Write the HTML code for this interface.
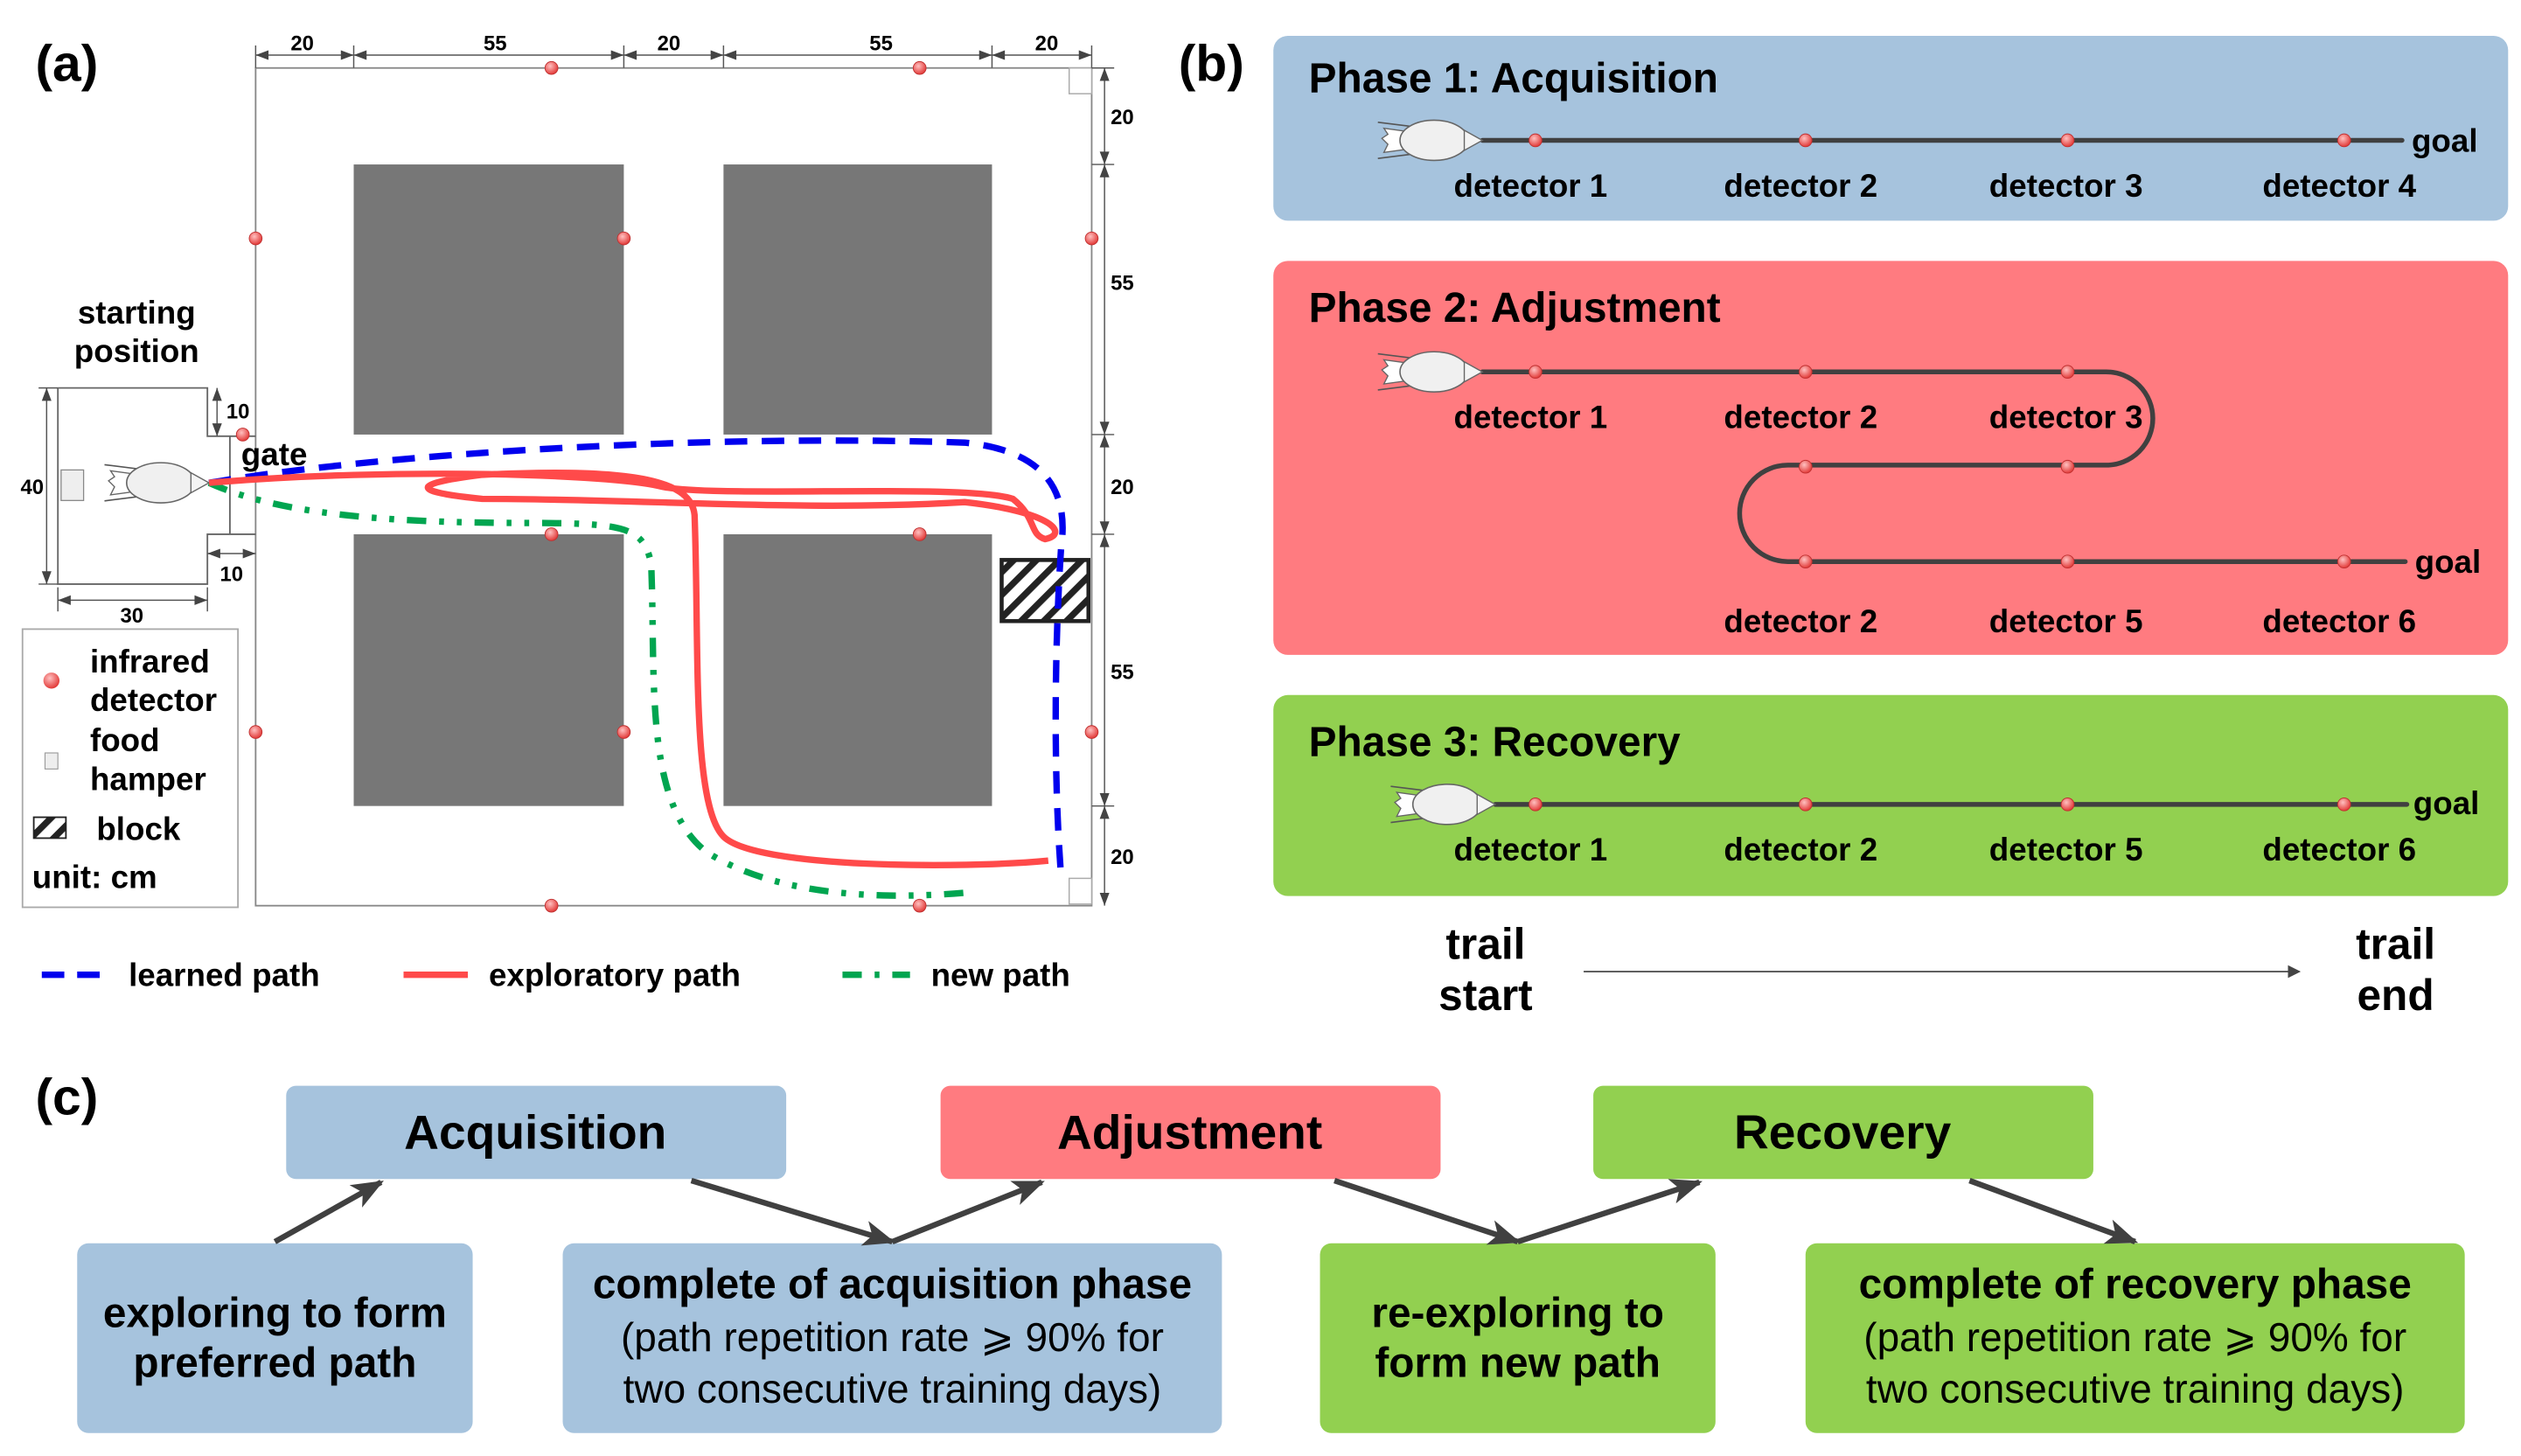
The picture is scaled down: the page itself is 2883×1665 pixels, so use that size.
<!DOCTYPE html>
<html><head><meta charset="utf-8"><style>
html,body{margin:0;padding:0;background:#fff}
svg{display:block}
.c{font-family:"Liberation Sans",sans-serif;font-weight:bold}
</style></head><body>
<svg width="2883" height="1665" viewBox="0 0 1568 905" xmlns="http://www.w3.org/2000/svg">
<defs>
<radialGradient id="rd" cx="0.4" cy="0.35" r="0.7"><stop offset="0" stop-color="#ffc0c0"/><stop offset="1" stop-color="#e0302e"/></radialGradient>
<marker id="ah" markerWidth="8" markerHeight="8" refX="7" refY="4" orient="auto" markerUnits="userSpaceOnUse"><path d="M0,0 L8,4 L0,8 Z" fill="#444"/></marker>
<marker id="ab" markerWidth="20" markerHeight="16" refX="18" refY="8" orient="auto" markerUnits="userSpaceOnUse"><path d="M0,0 L20,8 L0,16 L5,8 Z" fill="#404040"/></marker>
<pattern id="hat" width="10" height="10" patternUnits="userSpaceOnUse" patternTransform="rotate(45)"><rect width="10" height="10" fill="#fff"/><rect width="4" height="10" fill="#222"/></pattern>
<g id="mouse" transform="scale(1.25)">
<line x1="-40" y1="-9" x2="-8" y2="-5" stroke="#555" stroke-width="0.7"/>
<line x1="-40" y1="9" x2="-8" y2="5" stroke="#555" stroke-width="0.7"/>
<path d="M-37,-6 L-15,-3 L-15,3 L-37,6 L-35,2 L-38,-1 L-35,-3 Z" fill="#fff" stroke="#666" stroke-width="0.6"/>
<ellipse cx="-12" cy="0" rx="17" ry="10" fill="#f0f0f0" stroke="#666" stroke-width="0.7"/>
<path d="M3,-5 L12,0 L3,5 Z" fill="#f4f4f4" stroke="#666" stroke-width="0.6"/>
</g>
</defs>

<g class="c" font-family="Liberation Sans">
<text x="22" y="50" font-size="32">(a)</text>
<rect x="159" y="42" width="520" height="521" fill="#fff" stroke="#888" stroke-width="1"/>
<rect x="665" y="42" width="14" height="16" fill="#fff" stroke="#aaa" stroke-width="0.8"/>
<rect x="665" y="546" width="14" height="16" fill="#fff" stroke="#aaa" stroke-width="0.8"/>
<path d="M143,242 L143,364" stroke="#fff" stroke-width="3"/>
<path d="M36,241 L129,241 L129,271 L159,271 M36,241 L36,363 L129,363 L129,332 L159,332 M143,271 L143,332" fill="none" stroke="#666" stroke-width="1"/>
<rect x="38" y="292" width="14" height="19" fill="#eee" stroke="#888" stroke-width="0.7"/>
<use href="#mouse" transform="translate(115,300)"/>
<rect x="220" y="102" width="168" height="168" fill="#777"/>
<rect x="450" y="102" width="167" height="168" fill="#777"/>
<rect x="220" y="332" width="168" height="169" fill="#777"/>
<rect x="450" y="332" width="167" height="169" fill="#777"/>
<rect x="623" y="348" width="54" height="38" fill="url(#hat)" stroke="#222" stroke-width="2.5"/>
<g stroke="#555" stroke-width="0.8" fill="none">
<line x1="159" y1="34" x2="679" y2="34"/>
<line x1="159" y1="42" x2="159" y2="28"/><line x1="220" y1="28" x2="220" y2="42"/><line x1="388" y1="28" x2="388" y2="42"/><line x1="450" y1="28" x2="450" y2="42"/><line x1="617" y1="28" x2="617" y2="42"/><line x1="679" y1="28" x2="679" y2="42"/>
<line x1="687" y1="42" x2="687" y2="563"/>
<line x1="679" y1="102" x2="693" y2="102"/><line x1="679" y1="270" x2="693" y2="270"/><line x1="679" y1="332" x2="693" y2="332"/><line x1="679" y1="501" x2="693" y2="501"/><line x1="679" y1="42" x2="693" y2="42"/>
<line x1="29" y1="241" x2="29" y2="363"/><line x1="24" y1="241" x2="36" y2="241"/><line x1="24" y1="363" x2="36" y2="363"/>
<line x1="36" y1="373" x2="129" y2="373"/><line x1="36" y1="365" x2="36" y2="380"/><line x1="129" y1="365" x2="129" y2="380"/>
<line x1="135" y1="241" x2="135" y2="271"/>
<line x1="129" y1="344" x2="159" y2="344"/>
</g>
<g fill="#444">
<path d="M159,34 l8,-3 v6z M220,34 l-8,-3 v6z M220,34 l8,-3 v6z M388,34 l-8,-3 v6z M388,34 l8,-3 v6z M450,34 l-8,-3 v6z M450,34 l8,-3 v6z M617,34 l-8,-3 v6z M617,34 l8,-3 v6z M679,34 l-8,-3 v6z"/>
<path d="M687,42 l-3,8 h6z M687,102 l-3,-8 h6z M687,102 l-3,8 h6z M687,270 l-3,-8 h6z M687,270 l-3,8 h6z M687,332 l-3,-8 h6z M687,332 l-3,8 h6z M687,501 l-3,-8 h6z M687,501 l-3,8 h6z M687,563 l-3,-8 h6z"/>
<path d="M29,241 l-3,8 h6z M29,363 l-3,-8 h6z M36,373 l8,-3 v6z M129,373 l-8,-3 v6z M135,241 l-3,8 h6z M135,271 l-3,-8 h6z M129,344 l8,-3 v6z M159,344 l-8,-3 v6z"/>
</g>
<g font-size="13" text-anchor="middle">
<text x="188" y="31">20</text><text x="308" y="31">55</text><text x="416" y="31">20</text><text x="548" y="31">55</text><text x="651" y="31">20</text>
<text x="698" y="77">20</text><text x="698" y="180">55</text><text x="698" y="307">20</text><text x="698" y="422">55</text><text x="698" y="537">20</text>
<text x="20" y="307">40</text><text x="82" y="387">30</text><text x="148" y="260">10</text><text x="144" y="361">10</text>
</g>
<text x="85" y="201" font-size="20" text-anchor="middle">starting</text>
<text x="85" y="225" font-size="20" text-anchor="middle">position</text>
<text x="150" y="289" font-size="20">gate</text>
<path d="M130,300 C250,280 450,270 600,275 C650,280 665,305 660,340 C656,400 655,480 660,545" fill="none" stroke="#0000ee" stroke-width="4" stroke-dasharray="14,9"/>
<path d="M130,300 C170,318 230,325 330,325 C390,325 400,328 405,350 C408,420 400,500 440,530 C480,555 540,560 600,555" fill="none" stroke="#00a550" stroke-width="4" stroke-dasharray="12,8,3,8,3,8"/>
<path d="M130,300 C250,290 380,295 410,302 C440,310 600,300 630,310 C645,322 640,332 650,335 C665,332 655,318 600,312 C500,318 400,310 300,310 C250,305 260,300 300,295 C400,290 430,300 432,320 C435,400 430,500 450,520 C470,540 600,540 652,535" fill="none" stroke="#ff4a4a" stroke-width="4"/>
<g fill="url(#rd)" stroke="#c03030" stroke-width="0.5">
<circle cx="343" cy="42" r="4"/><circle cx="572" cy="42" r="4"/><circle cx="159" cy="148" r="4"/><circle cx="159" cy="455" r="4"/>
<circle cx="388" cy="148" r="4"/><circle cx="388" cy="455" r="4"/><circle cx="679" cy="148" r="4"/><circle cx="679" cy="455" r="4"/>
<circle cx="343" cy="563" r="4"/><circle cx="572" cy="563" r="4"/><circle cx="343" cy="332" r="4"/><circle cx="572" cy="332" r="4"/><circle cx="151" cy="270" r="4"/>
</g>
<rect x="14" y="391" width="134" height="173" fill="#fff" stroke="#aaa" stroke-width="1"/>
<circle cx="32" cy="423" r="5" fill="url(#rd)"/>
<rect x="28" y="468" width="8" height="10" fill="#eee" stroke="#999" stroke-width="0.6"/>
<rect x="21" y="508" width="20" height="13" fill="url(#hat)" stroke="#222" stroke-width="1"/>
<g font-size="20"><text x="56" y="418">infrared</text><text x="56" y="442">detector</text><text x="56" y="467">food</text><text x="56" y="491">hamper</text><text x="60" y="522">block</text><text x="20" y="552">unit: cm</text>
<text x="80" y="613">learned path</text><text x="304" y="613">exploratory path</text><text x="579" y="613">new path</text></g>
<line x1="26" y1="606" x2="68" y2="606" stroke="#0000ee" stroke-width="4" stroke-dasharray="14,8"/>
<line x1="251" y1="606" x2="291" y2="606" stroke="#ff4a4a" stroke-width="4"/>
<line x1="524" y1="606" x2="566" y2="606" stroke="#00a550" stroke-width="4" stroke-dasharray="12,8,3,8"/>

<text x="733" y="50" font-size="32">(b)</text>
<rect x="792" y="22" width="768" height="115" rx="9" fill="#a6c3dd"/>
<rect x="792" y="162" width="768" height="245" rx="9" fill="#ff7b80"/>
<rect x="792" y="432" width="768" height="125" rx="9" fill="#92d050"/>
<g font-size="26"><text x="814" y="57">Phase 1: Acquisition</text><text x="814" y="200">Phase 2: Adjustment</text><text x="814" y="470">Phase 3: Recovery</text></g>
<g stroke="#404040" stroke-width="3" fill="none" stroke-linecap="round">
<line x1="922" y1="87" x2="1494" y2="87"/>
<path d="M922,231 L1310,231 A29,29 0 0 1 1310,289 L1112,289 A30,30 0 0 0 1112,349 L1496,349"/>
<line x1="930" y1="500" x2="1497" y2="500"/>
</g>
<use href="#mouse" transform="translate(907,87)"/>
<use href="#mouse" transform="translate(907,231)"/>
<use href="#mouse" transform="translate(915,500)"/>
<g fill="url(#rd)" stroke="#c03030" stroke-width="0.5">
<circle cx="955" cy="87" r="4"/><circle cx="1123" cy="87" r="4"/><circle cx="1286" cy="87" r="4"/><circle cx="1458" cy="87" r="4"/>
<circle cx="955" cy="231" r="4"/><circle cx="1123" cy="231" r="4"/><circle cx="1286" cy="231" r="4"/>
<circle cx="1123" cy="290" r="4"/><circle cx="1286" cy="290" r="4"/>
<circle cx="1123" cy="349" r="4"/><circle cx="1286" cy="349" r="4"/><circle cx="1458" cy="349" r="4"/>
<circle cx="955" cy="500" r="4"/><circle cx="1123" cy="500" r="4"/><circle cx="1286" cy="500" r="4"/><circle cx="1458" cy="500" r="4"/>
</g>
<g font-size="20" text-anchor="middle">
<text x="952" y="122">detector 1</text><text x="1120" y="122">detector 2</text><text x="1285" y="122">detector 3</text><text x="1455" y="122">detector 4</text>
<text x="952" y="266">detector 1</text><text x="1120" y="266">detector 2</text><text x="1285" y="266">detector 3</text>
<text x="1120" y="393">detector 2</text><text x="1285" y="393">detector 5</text><text x="1455" y="393">detector 6</text>
<text x="952" y="535">detector 1</text><text x="1120" y="535">detector 2</text><text x="1285" y="535">detector 5</text><text x="1455" y="535">detector 6</text>
</g>
<g font-size="20"><text x="1500" y="94">goal</text><text x="1502" y="356">goal</text><text x="1501" y="506">goal</text></g>
<g font-size="27" text-anchor="middle"><text x="924" y="596">trail</text><text x="924" y="628">start</text><text x="1490" y="596">trail</text><text x="1490" y="628">end</text></g>
<line x1="985" y1="604" x2="1430" y2="604" stroke="#555" stroke-width="1" marker-end="url(#ah)"/>

<text x="22" y="693" font-size="32">(c)</text>
<rect x="178" y="675" width="311" height="58" rx="6" fill="#a6c3dd"/>
<rect x="585" y="675" width="311" height="58" rx="6" fill="#ff7b80"/>
<rect x="991" y="675" width="311" height="58" rx="6" fill="#92d050"/>
<g font-size="30" text-anchor="middle"><text x="333" y="714">Acquisition</text><text x="740" y="714">Adjustment</text><text x="1146" y="714">Recovery</text></g>
<rect x="48" y="773" width="246" height="118" rx="7" fill="#a6c3dd"/>
<rect x="350" y="773" width="410" height="118" rx="7" fill="#a6c3dd"/>
<rect x="821" y="773" width="246" height="118" rx="7" fill="#92d050"/>
<rect x="1123" y="773" width="410" height="118" rx="7" fill="#92d050"/>
<g font-size="26" text-anchor="middle">
<text x="171" y="825">exploring to form</text><text x="171" y="856">preferred path</text>
<text x="555" y="807">complete of acquisition phase</text>
<text x="944" y="825">re-exploring to</text><text x="944" y="856">form new path</text>
<text x="1328" y="807">complete of recovery phase</text>
</g>
<g font-size="25" text-anchor="middle" font-weight="normal">
<text x="555" y="840">(path repetition rate ⩾ 90% for</text><text x="555" y="872">two consecutive training days)</text>
<text x="1328" y="840">(path repetition rate ⩾ 90% for</text><text x="1328" y="872">two consecutive training days)</text>
</g>
<g stroke="#404040" stroke-width="3.5" fill="none">
<line x1="171" y1="772" x2="237" y2="735" marker-end="url(#ab)"/>
<line x1="430" y1="734" x2="555" y2="772" marker-end="url(#ab)"/>
<line x1="555" y1="772" x2="648" y2="735" marker-end="url(#ab)"/>
<line x1="830" y1="734" x2="944" y2="772" marker-end="url(#ab)"/>
<line x1="944" y1="772" x2="1057" y2="735" marker-end="url(#ab)"/>
<line x1="1225" y1="734" x2="1328" y2="772" marker-end="url(#ab)"/>
</g>
</g>
</svg>
</body></html>
